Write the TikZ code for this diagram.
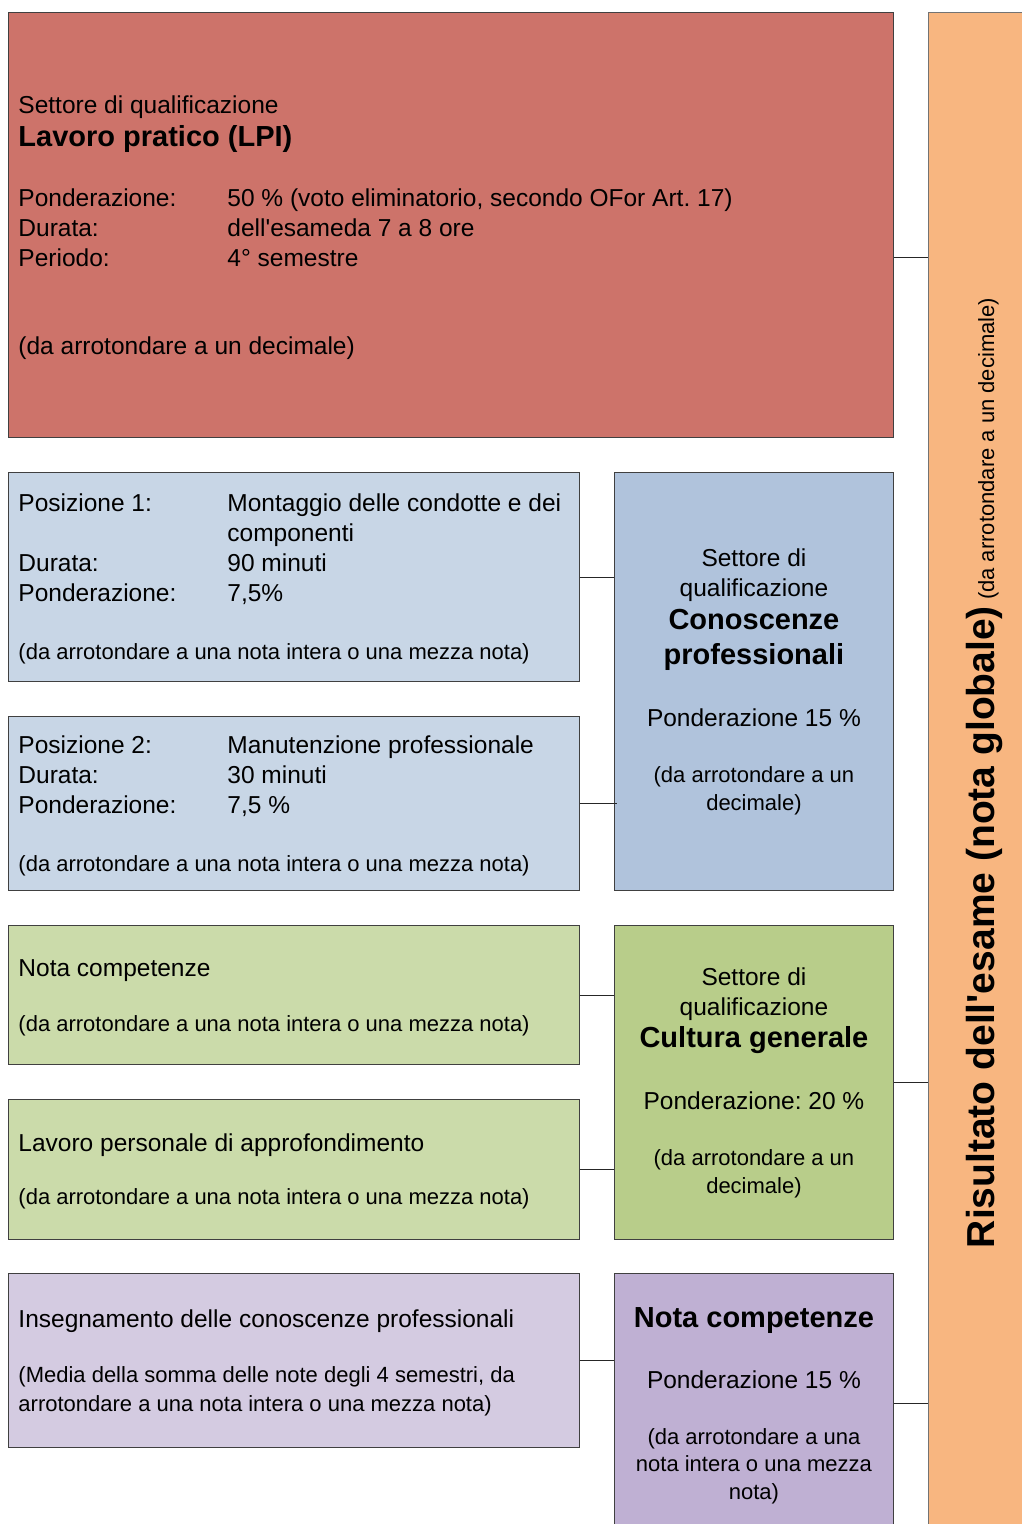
\documentclass[tikz,border=0pt]{standalone}
\usepackage{fontspec}
\setmainfont{Liberation Sans}
\usepackage{xcolor}
\definecolor{lpired}{HTML}{CD736A}
\definecolor{resorange}{HTML}{F8B680}
\definecolor{posblue}{HTML}{C8D6E6}
\definecolor{kpblue}{HTML}{B0C3DC}
\definecolor{compgreen}{HTML}{CBDBAA}
\definecolor{cggreen}{HTML}{B8CD8A}
\definecolor{ickviolet}{HTML}{D4CBE1}
\definecolor{ncviolet}{HTML}{BFB0D3}
\newcommand{\normsize}{\fontsize{24.5}{30}\selectfont\frenchspacing}
\newcommand{\smallsize}{\fontsize{22}{30}\selectfont}
\newcommand{\titlesize}{\fontsize{29}{30}\selectfont\bfseries}
\newcommand{\lbl}[1]{\makebox[209pt][l]{#1}}
\newcommand{\topline}{\rule{0pt}{22.2pt}}
\tikzset{
  box/.style={draw=black!75, line width=0.9pt, anchor=north west, inner xsep=10pt, inner ysep=0pt, font=\normsize},
  leftbox/.style={box, align=flush left, text width=551pt, execute at begin node=\topline},
  centerbox/.style={box, align=flush center, text width=259pt},
  link/.style={draw=black!85, line width=0.9pt}}

\begin{document}
\begin{tikzpicture}[x=1pt, y=-1pt]
\useasboundingbox (0,0) rectangle (1022,1524);
% result bar on the right
\node[box, draw=black!55, fill=resorange, minimum width=110pt, minimum height=1535pt] (res) at (928,12) {};
\node[rotate=90, anchor=base] (restext) at (994,773) {{\fontsize{39}{45}\selectfont\bfseries Risultato dell\textquotesingle esame (nota globale)}{\smallsize{} (da arrotondare a un decimale)}};
% practical work
\node[box, align=flush left, text width=865pt, fill=lpired, minimum height=425pt, execute at begin node=\topline] (lpi) at (8,12) {Settore di qualificazione\\[3.6pt]
  {\titlesize Lavoro pratico (LPI)}\\[29.4pt]
  \lbl{Ponderazione:}50 \% (voto eliminatorio, secondo OFor Art. 17)\\
  \lbl{Durata:}dell\textquotesingle esameda 7 a 8 ore\\
  \lbl{Periodo:}4° semestre\\[58pt]
  (da arrotondare a un decimale)};
% professional knowledge
\node[leftbox, fill=posblue, minimum height=209pt] (pos1) at (8,472) {\lbl{Posizione 1:}Montaggio delle condotte e dei\\
  \lbl{}componenti\\
  \lbl{Durata:}90 minuti\\
  \lbl{Ponderazione:}7,5\%\\[28pt]
  {\smallsize (da arrotondare a una nota intera o una mezza nota)}};
\node[leftbox, fill=posblue, minimum height=174pt] (pos2) at (8,716) {\lbl{Posizione 2:}Manutenzione professionale\\
  \lbl{Durata:}30 minuti\\
  \lbl{Ponderazione:}7,5 \%\\[28pt]
  {\smallsize (da arrotondare a una nota intera o una mezza nota)}};
\node[centerbox, fill=kpblue, minimum height=418pt] (kp) at (614,472) {Settore di\\
  qualificazione\\[3.6pt]
  {\titlesize Conoscenze}\\[5pt]
  {\titlesize professionali}\\[31.4pt]
  Ponderazione 15 \%\\[26.1pt]
  {\smallsize (da arrotondare a un}\\[-2pt]
  {\smallsize decimale)}};
% general culture
\node[leftbox, fill=compgreen, minimum height=139pt] (comp) at (8,925) {Nota competenze\\[25pt]
  {\smallsize (da arrotondare a una nota intera o una mezza nota)}};
\node[leftbox, fill=compgreen, minimum height=140pt] (lpa) at (8,1099) {Lavoro personale di approfondimento\\[23pt]
  {\smallsize (da arrotondare a una nota intera o una mezza nota)}};
\node[centerbox, fill=cggreen, minimum height=314pt] (cg) at (614,925) {Settore di\\
  qualificazione\\[2.6pt]
  {\titlesize Cultura generale}\\[31.4pt]
  Ponderazione: 20 \%\\[26.1pt]
  {\smallsize (da arrotondare a un}\\[-2pt]
  {\smallsize decimale)}};
% teaching of professional knowledge
\node[leftbox, fill=ickviolet, minimum height=174pt] (ick) at (8,1273) {Insegnamento delle conoscenze professionali\\[25pt]
  {\smallsize (Media della somma delle note degli 4 semestri, da}\\[-1pt]
  {\smallsize arrotondare a una nota intera o una mezza nota)}};
\node[centerbox, fill=ncviolet, minimum height=260pt] (nc) at (614,1273) {\rule{0pt}{25pt}{\titlesize Nota competenze}\\[31.4pt]
  Ponderazione 15 \%\\[26.1pt]
  {\smallsize (da arrotondare a una}\\[-3pt]
  {\smallsize nota intera o una mezza}\\[-2pt]
  {\smallsize nota)}};
% connectors
\coordinate (lpiout) at ([yshift=-32.5pt]lpi.east);
\draw[link] (lpiout) -- (lpiout -| res.west);
\draw[link] (pos1.east) -- (pos1.east -| kp.west);
\draw[link] (pos2.east) -- ([xshift=3pt]pos2.east -| kp.west);
\draw[link] (comp.east) -- (comp.east -| cg.west);
\draw[link] (lpa.east) -- (lpa.east -| cg.west);
\draw[link] (cg.east) -- (cg.east -| res.west);
\draw[link] (ick.east) -- (ick.east -| nc.west);
\draw[link] (nc.east) -- (nc.east -| res.west);
\end{tikzpicture}
\end{document}
